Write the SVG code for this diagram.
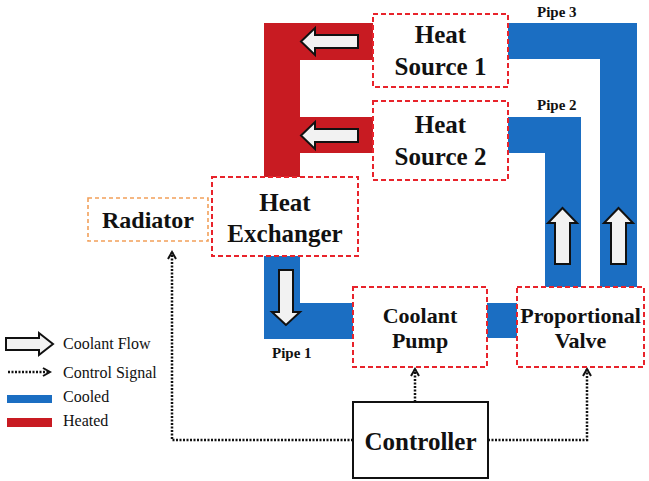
<svg xmlns="http://www.w3.org/2000/svg" width="649" height="481" viewBox="0 0 649 481">
<defs>
<style>
.cool{fill:#1b6ec2}
.hot{fill:#c81b22}
.flow{fill:#f2f2f2;stroke:#111;stroke-width:2;stroke-linejoin:miter}
.box{fill:#fff;stroke:#e8232b;stroke-width:2;stroke-dasharray:5,3}
.rad{fill:#fff;stroke:#f2a05a;stroke-width:1.6;stroke-dasharray:4,3}
.ctl{fill:#fff;stroke:#111;stroke-width:2}
text{font-family:'Liberation Serif','DejaVu Serif',serif}
.lbl{font-weight:bold;fill:#111;text-anchor:middle}
.pipe{font-weight:bold;font-size:15px;fill:#111}
.leg{font-size:16px;fill:#111}
.sig{fill:none;stroke:#111;stroke-width:2.5;stroke-dasharray:2,1.5}
</style>
<marker id="ah" viewBox="0 0 10 10" refX="8" refY="5" markerWidth="10" markerHeight="10" markerUnits="userSpaceOnUse" orient="auto">
<path d="M1,1 L8,5 L1,9" fill="none" stroke="#111" stroke-width="2"/>
</marker>
</defs>
<rect width="649" height="481" fill="#fff"/>
<g id="connectors">
<rect class="hot" x="264" y="23" width="36" height="156"/>
<rect class="hot" x="264" y="23" width="112" height="37"/>
<rect class="hot" x="264" y="117" width="112" height="36"/>
<rect class="cool" x="505" y="23" width="132" height="36"/>
<rect class="cool" x="600" y="23" width="37" height="266"/>
<rect class="cool" x="505" y="117" width="76" height="36"/>
<rect class="cool" x="545" y="117" width="36" height="172"/>
<rect class="cool" x="264" y="254" width="36" height="85"/>
<rect class="cool" x="264" y="303" width="92" height="36"/>
<rect class="cool" x="484" y="303" width="36" height="35"/>
<path class="flow" d="M301,41.5 L315,28 L315,35 L358,35 L358,48 L315,48 L315,55 Z"/>
<path class="flow" d="M301,135.5 L315,122 L315,129 L358,129 L358,142 L315,142 L315,149 Z"/>
<path class="flow" d="M286,325 L272,312 L279,312 L279,270 L293,270 L293,312 L300,312 Z"/>
<path class="flow" d="M562.5,208 L548,223 L555,223 L555,264 L570,264 L570,223 L577,223 Z"/>
<path class="flow" d="M618.5,208 L604,223 L611,223 L611,264 L626,264 L626,223 L633,223 Z"/>
<polyline class="sig" points="353,440 172,440 172,252" marker-end="url(#ah)"/>
<polyline class="sig" points="415,402 415,369" marker-end="url(#ah)"/>
<polyline class="sig" points="488,440 587,440 587,369" marker-end="url(#ah)"/>
</g>
<g id="pipe-labels">
<text class="pipe" x="537" y="17">Pipe 3</text>
<text class="pipe" x="537" y="110">Pipe 2</text>
<text class="pipe" x="272" y="358">Pipe 1</text>
</g>
<g id="heat-source-1">
<rect class="box" x="373" y="14" width="135" height="73"/>
<text class="lbl" x="440.5" y="43" font-size="25">Heat</text>
<text class="lbl" x="440.5" y="75" font-size="25">Source 1</text>
</g>
<g id="heat-source-2">
<rect class="box" x="373" y="101" width="135" height="79"/>
<text class="lbl" x="440.5" y="133" font-size="25">Heat</text>
<text class="lbl" x="440.5" y="165" font-size="25">Source 2</text>
</g>
<g id="heat-exchanger">
<rect class="box" x="212" y="177" width="146" height="79"/>
<text class="lbl" x="285" y="211" font-size="25">Heat</text>
<text class="lbl" x="285" y="242" font-size="25">Exchanger</text>
</g>
<g id="radiator">
<rect class="rad" x="88" y="198" width="120" height="43"/>
<text class="lbl" x="148" y="228" font-size="24">Radiator</text>
</g>
<g id="coolant-pump">
<rect class="box" x="353" y="287" width="134" height="80"/>
<text class="lbl" x="420" y="323" font-size="22">Coolant</text>
<text class="lbl" x="420" y="348" font-size="22">Pump</text>
</g>
<g id="proportional-valve">
<rect class="box" x="517" y="287" width="127" height="80"/>
<text class="lbl" x="580.5" y="323" font-size="22">Proportional</text>
<text class="lbl" x="580.5" y="348" font-size="22">Valve</text>
</g>
<g id="controller">
<rect class="ctl" x="353" y="402" width="135" height="76"/>
<text class="lbl" x="420.5" y="450" font-size="25">Controller</text>
</g>
<g id="legend">
<path class="flow" d="M53,344 L39,333 L39,338 L6,338 L6,350 L39,350 L39,355 Z"/>
<text class="leg" x="63" y="349">Coolant Flow</text>
<line class="sig" x1="8" y1="372" x2="50" y2="372" marker-end="url(#ah)"/>
<text class="leg" x="63" y="378">Control Signal</text>
<rect class="cool" x="7" y="395" width="45" height="8"/>
<text class="leg" x="63" y="402">Cooled</text>
<rect class="hot" x="7" y="418" width="45" height="9"/>
<text class="leg" x="63" y="426">Heated</text>
</g>
</svg>
